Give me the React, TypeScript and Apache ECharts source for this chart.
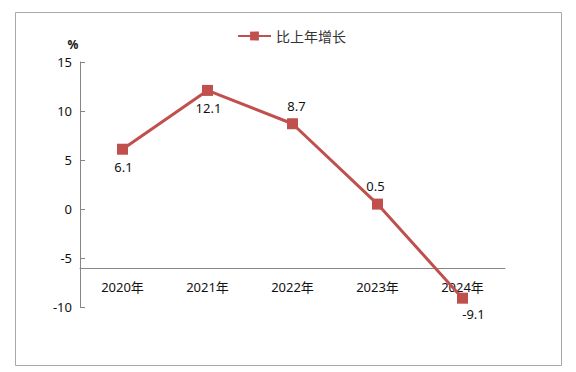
import React, { useEffect, useRef } from "react";
import * as echarts from "echarts";

const categories = ["2020年", "2021年", "2022年", "2023年", "2024年"];
const growth = [6.1, 12.1, 8.7, 0.5, -9.1];
const labelPos = ["bottom", "bottom", "top", "top", "bottom"];
const labelOffset = [[1, 0], [1, 0], [4, 0], [-2, 0], [11, -2]];
const seriesName = "比上年增长";

export default function App() {
  const ref = useRef<HTMLDivElement>(null);
  useEffect(() => {
    document.body.style.margin = "0";
    const chart = echarts.init(ref.current!, null, { renderer: "svg" });
    const font = "'Noto Sans', 'Noto Sans CJK SC', sans-serif";
    chart.setOption({
      animation: false,
      textStyle: { fontFamily: font },
      graphic: [
        {
          type: "rect",
          shape: { x: 15.5, y: 12.5, width: 546, height: 353 },
          style: { fill: "none", stroke: "#a8a8a8", lineWidth: 1 },
        },
      ],
      legend: {
        top: 24,
        left: 232,
        itemWidth: 33,
        itemHeight: 11,
        itemGap: 4,
        textStyle: { fontSize: 14, color: "#333", fontFamily: font },
        data: [{ name: seriesName }],
      },
      grid: { left: 80, top: 62, width: 425, height: 245, containLabel: false },
      xAxis: {
        type: "category",
        data: categories,
        boundaryGap: true,
        position: "bottom",
        offset: -39,
        axisLine: { onZero: false, lineStyle: { color: "#868686", width: 1 } },
        axisTick: { inside: true, length: 5, lineStyle: { color: "#868686" } },
        axisLabel: { color: "#111", fontSize: 13, margin: 12, fontFamily: font },
        splitLine: { show: false },
      },
      yAxis: {
        type: "value",
        min: -10,
        max: 15,
        interval: 5,
        name: "%",
        nameLocation: "end",
        nameGap: 12,
        nameTextStyle: { fontWeight: "bold", fontSize: 12, color: "#111", padding: [0, 14, 0, 0] },
        axisLine: { show: true, lineStyle: { color: "#868686", width: 1 } },
        axisTick: { show: true, inside: true, length: 5, lineStyle: { color: "#868686" } },
        axisLabel: { color: "#111", fontSize: 13, margin: 8, fontFamily: font },
        splitLine: { show: false },
      },
      series: [
        {
          name: seriesName,
          type: "line",
          data: growth.map((v, i) => ({
            value: v,
            label: {
              position: labelPos[i],
              offset: labelOffset[i],
            },
          })),
          symbol: "rect",
          symbolSize: 11,
          lineStyle: { color: "#c0504d", width: 3 },
          itemStyle: { color: "#c0504d" },
          label: {
            show: true,
            color: "#111",
            fontSize: 13,
            distance: 6,
            fontFamily: font,
          },
        },
      ],
    });
    return () => chart.dispose();
  }, []);
  return <div ref={ref} style={{ width: 576, height: 372 }} />;
}
